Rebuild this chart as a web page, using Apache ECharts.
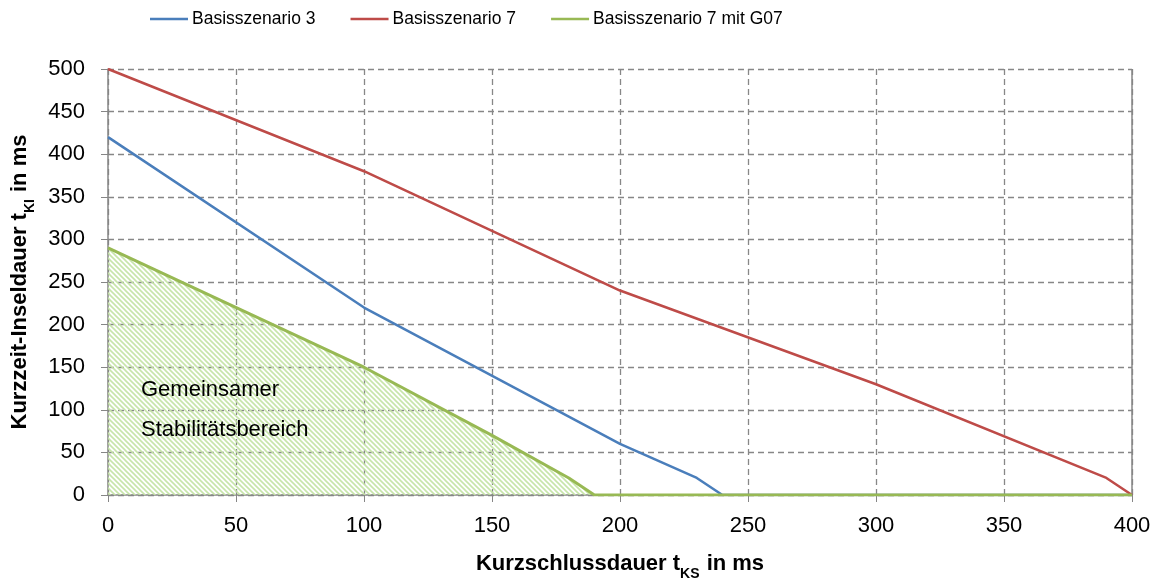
<!DOCTYPE html>
<html>
<head>
<meta charset="utf-8">
<script src="https://cdn.jsdelivr.net/npm/echarts@6/dist/echarts.min.js"></script>
<style>
  html, body { margin: 0; padding: 0; background: #fff; }
  #chart { width: 1162px; height: 581px; }
</style>
</head>
<body>
<div id="chart"></div>
<script>
// Grenzkurven: [Kurzschlussdauer t_KS in ms, Kurzzeit-Inseldauer t_KI in ms]
const basis3 = [[0, 420], [100, 220], [200, 60], [230, 20], [240, 0], [400, 0]];
const basis7 = [[0, 500], [100, 380], [200, 240], [300, 130], [390, 20], [400, 0]];
const basis7G07 = [[0, 290], [100, 150], [150, 70], [180, 20], [190, 0], [400, 0]];
const seriesNames = ['Basisszenario 3', 'Basisszenario 7', 'Basisszenario 7 mit G07'];
const areaLabel = ['Gemeinsamer', 'Stabilitätsbereich'];

const FONT = '"Liberation Sans", Arial, sans-serif';

// diagonal hatch used for the shared stability region
function hatchPattern() {
  const s = 5;
  const c = document.createElement('canvas');
  c.width = s; c.height = s;
  const g = c.getContext('2d');
  g.strokeStyle = 'rgba(196, 228, 165, 0.95)';
  g.lineWidth = 1.6;
  g.beginPath();
  g.moveTo(-1, -1); g.lineTo(s + 1, s + 1);
  g.moveTo(-1, s - 1); g.lineTo(1, s + 1);
  g.moveTo(s - 1, -1); g.lineTo(s + 1, 1);
  g.stroke();
  return c;
}

const chart = echarts.init(document.getElementById('chart'));
const gridLine = { show: true, lineStyle: { color: '#878787', type: [6, 4], width: 1.3 } };
const titleRich = {
  a: { fontSize: 22, fontWeight: 'bold', color: '#000', fontFamily: FONT, lineHeight: 26, verticalAlign: 'bottom' },
  s: { fontSize: 14, fontWeight: 'bold', color: '#000', fontFamily: FONT, lineHeight: 26, verticalAlign: 'bottom', padding: [0, 1, -6, 0] }
};

chart.setOption({
  animation: false,
  textStyle: { fontFamily: FONT },
  legend: {
    top: 5,
    left: 145,
    icon: 'rect',
    itemWidth: 38,
    itemHeight: 2.5,
    itemGap: 35,
    textStyle: { fontFamily: FONT, fontSize: 17.5, color: '#000', padding: [0, 0, 0, -1] },
    data: seriesNames
  },
  grid: { left: 108, right: 30, top: 69, bottom: 86, containLabel: false, outerBoundsMode: 'none' },
  xAxis: {
    type: 'value', min: 0, max: 400, interval: 50,
    axisLine: { show: true, onZero: false, lineStyle: { color: '#868686', width: 1.5 } },
    axisTick: { show: true, length: 7, lineStyle: { color: '#868686' } },
    axisLabel: { fontSize: 22, color: '#000', margin: 20, fontFamily: FONT },
    splitLine: gridLine,
    name: '{a|Kurzschlussdauer t}{s|KS}{a| in ms}',
    nameLocation: 'middle',
    nameGap: 54,
    nameTextStyle: { rich: titleRich }
  },
  yAxis: {
    type: 'value', min: 0, max: 500, interval: 50,
    axisLine: { show: true, lineStyle: { color: '#868686', width: 1.5 } },
    axisTick: { show: true, length: 7, lineStyle: { color: '#868686' } },
    axisLabel: { fontSize: 22, color: '#000', margin: 23, fontFamily: FONT },
    splitLine: gridLine,
    name: '{a|Kurzzeit-Inseldauer t}{s|KI}{a| in ms}',
    nameLocation: 'middle',
    nameGap: 70,
    nameRotate: 90,
    nameTextStyle: { rich: titleRich }
  },
  graphic: [{
    type: 'line', z: 1,
    shape: { x1: 1132, y1: 69, x2: 1132, y2: 495 },
    style: { stroke: '#868686', lineWidth: 1.5 }
  }, {
    type: 'text', x: 141, y: 390, z: 10,
    style: { text: areaLabel[0], font: '22px ' + FONT, fill: '#000', verticalAlign: 'middle' }
  }, {
    type: 'text', x: 141, y: 430, z: 10,
    style: { text: areaLabel[1], font: '22px ' + FONT, fill: '#000', verticalAlign: 'middle' }
  }],
  series: [{
    name: seriesNames[0], type: 'line', data: basis3,
    symbol: 'none', color: '#4a7ebb', lineStyle: { width: 2.5 }, z: 3
  }, {
    name: seriesNames[1], type: 'line', data: basis7,
    symbol: 'none', color: '#be4b48', lineStyle: { width: 2.5 }, z: 3
  }, {
    name: seriesNames[2], type: 'line', data: basis7G07,
    symbol: 'none', color: '#98b954', lineStyle: { width: 3 }, z: 4,
    areaStyle: { color: { image: hatchPattern(), repeat: 'repeat' }, opacity: 1 }
  }]
});
</script>
</body>
</html>
